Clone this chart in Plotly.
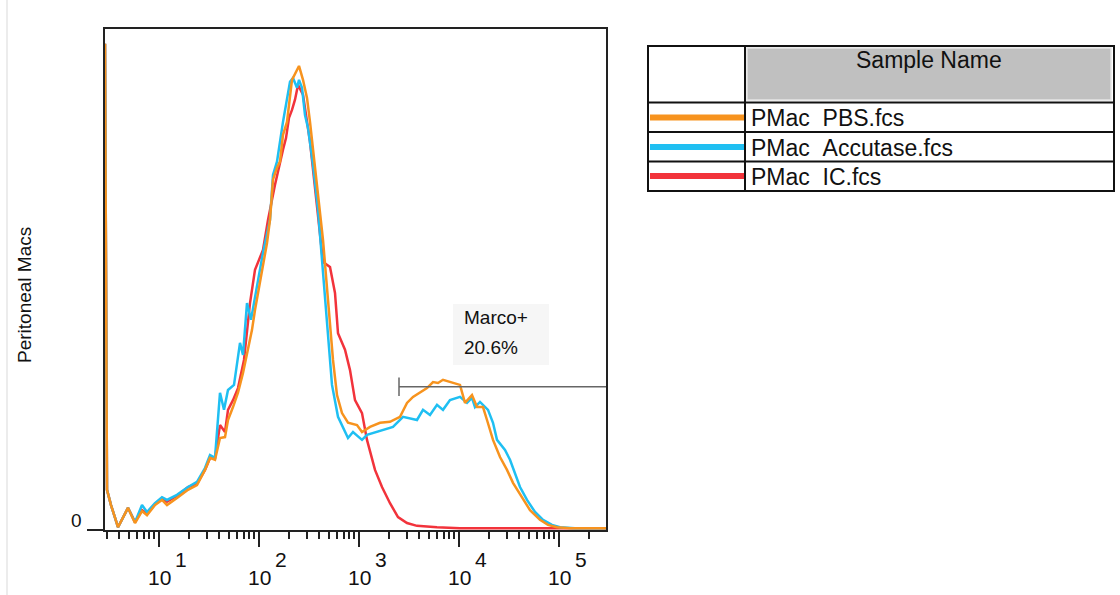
import numpy as np
import plotly.graph_objects as go

# ---------------- data (log10 fluorescence intensity, % of mode) ----------------
log_pbs = [0.46,0.48,0.52,0.59,0.69,0.76,0.83,0.88,0.96,1.03,1.08,1.13,1.18,1.29,1.38,1.46,1.51,1.56,1.61,1.66,
           1.69,1.74,1.79,1.84,1.89,1.93,1.96,2.03,2.08,2.11,2.14,2.18,2.21,2.24,2.28,2.33,2.37,2.40,2.44,2.48,
           2.51,2.56,2.61,2.64,2.69,2.74,2.78,2.83,2.89,2.98,3.03,3.11,3.21,3.31,3.41,3.48,3.54,3.61,3.68,3.74,
           3.79,3.84,3.94,4.01,4.06,4.13,4.18,4.24,4.28,4.34,4.41,4.48,4.54,4.63,4.71,4.81,4.89,4.98,5.11,5.31,5.47]
cnt_pbs = [105.2,8.7,5.4,0.6,4.8,1.5,4.1,3.2,5.4,6.5,5.4,6.1,6.9,8.7,9.7,13.0,15.6,15.2,19.9,20.1,
           23.8,26.6,29.7,34.0,39.0,43.3,47.6,56.3,62.1,67.1,75.8,78.4,79.7,85.5,88.3,97.4,99.1,100.4,97.4,93.5,
           88.3,79.0,69.7,62.8,49.8,36.8,29.2,25.3,23.2,22.7,21.2,22.3,23.2,23.4,24.5,27.5,28.8,29.7,30.7,32.0,
           31.8,32.5,31.8,31.4,27.5,29.2,26.6,26.6,23.8,19.5,15.8,13.0,10.2,7.1,4.3,2.2,1.1,0.6,0.4,0.4,0.4]

log_acc = [0.46,0.48,0.52,0.59,0.69,0.76,0.83,0.88,0.96,1.03,1.08,1.18,1.29,1.38,1.46,1.51,1.56,1.58,1.61,1.65,
           1.69,1.75,1.81,1.84,1.88,1.92,1.96,2.04,2.11,2.14,2.18,2.24,2.31,2.34,2.38,2.40,2.43,2.46,2.49,2.54,
           2.59,2.63,2.69,2.73,2.79,2.83,2.89,2.94,3.03,3.08,3.14,3.23,3.34,3.44,3.51,3.58,3.64,3.71,3.78,3.84,
           3.91,4.01,4.08,4.13,4.16,4.21,4.29,4.34,4.38,4.46,4.51,4.56,4.61,4.68,4.76,4.84,4.93,5.01,5.16,5.47]
cnt_acc = [105.2,8.7,5.4,0.6,4.8,1.7,5.4,3.9,5.8,7.1,6.5,7.6,9.3,10.4,13.4,16.2,15.6,21.6,29.7,26.0,
           30.3,31.4,40.5,37.9,49.1,45.5,50.4,60.0,67.1,76.8,79.7,88.3,97.0,97.8,95.7,97.4,95.7,89.8,87.0,79.0,
           69.3,58.4,40.5,31.4,24.5,22.7,19.9,21.2,19.5,20.6,21.0,21.6,22.3,24.5,24.2,23.8,26.0,24.9,27.1,26.0,
           28.1,28.8,27.5,28.6,26.6,27.7,26.0,23.2,19.5,17.3,15.2,12.3,9.3,6.5,3.9,2.2,1.1,0.6,0.4,0.4]

log_ic = [0.46,0.48,0.52,0.59,0.69,0.76,0.83,0.88,0.96,1.03,1.08,1.18,1.29,1.38,1.46,1.51,1.56,1.61,1.66,1.69,
          1.74,1.79,1.85,1.91,1.96,2.04,2.09,2.16,2.24,2.27,2.30,2.33,2.36,2.39,2.44,2.51,2.56,2.61,2.64,2.71,
          2.76,2.79,2.86,2.91,2.96,3.03,3.08,3.16,3.23,3.31,3.39,3.48,3.58,3.78,4.01,5.47]
cnt_ic = [105.2,8.7,5.4,0.6,4.8,1.7,4.3,3.5,5.6,6.9,6.1,7.4,9.3,10.0,13.0,15.6,15.6,22.7,21.2,26.0,
          28.1,30.7,36.8,49.1,56.3,60.6,67.1,74.7,82.3,84.8,89.2,90.9,93.1,96.3,94.2,84.0,74.0,63.9,58.0,56.9,
          51.3,42.6,39.0,34.6,28.1,25.3,19.5,13.0,9.3,5.8,2.8,1.5,0.9,0.6,0.4,0.4]

sample_names = ["PMac\u00a0\u00a0PBS.fcs", "PMac\u00a0\u00a0Accutase.fcs", "PMac\u00a0\u00a0IC.fcs"]
sample_colors = ["#F7931E", "#1FBFF2", "#F2333B"]

gate_label = "Marco+"
gate_pct = "20.6%"
gate_log_low = 3.40
gate_level = 31.0

x_tick_exponents = [1, 2, 3, 4, 5]
y_title = "Peritoneal Macs"
table_header = "Sample Name"

X_LOG_RANGE = [0.46, 5.47]
Y_MAX = 108.4

# ---------------- layout helpers (pixel -> paper) ----------------
W, H = 1120, 595
PL, PR, PT, PB = 105, 606, 29, 530


def px(p):
    return (p - PL) / (PR - PL)


def py(p):
    return (PB - p) / (PB - PT)


fig = go.Figure()

series = [(log_ic, cnt_ic, sample_colors[2]),
          (log_acc, cnt_acc, sample_colors[1]),
          (log_pbs, cnt_pbs, sample_colors[0])]
for L, c, col in series:
    fig.add_trace(go.Scatter(x=10 ** np.array(L), y=c, mode="lines",
                             line=dict(color=col, width=2.5),
                             showlegend=False, hoverinfo="skip"))

# gate
g_lo = 10 ** gate_log_low
g_hi = 10 ** X_LOG_RANGE[1]
fig.add_trace(go.Scatter(x=[g_lo, g_hi], y=[gate_level, gate_level], mode="lines",
                         line=dict(color="#666666", width=1.5), showlegend=False, hoverinfo="skip"))
fig.add_trace(go.Scatter(x=[g_lo, g_lo], y=[gate_level - 2, gate_level + 2], mode="lines",
                         line=dict(color="#666666", width=1.5), showlegend=False, hoverinfo="skip"))

major = [10 ** e for e in x_tick_exponents]
minor = [k * 10 ** e for e in range(0, 6) for k in range(2, 10)
         if X_LOG_RANGE[0] <= np.log10(k * 10 ** e) <= X_LOG_RANGE[1]]

FONT = "Arial, Liberation Sans, sans-serif"
AX = "#222222"

fig.update_layout(
    width=W, height=H,
    margin=dict(l=PL, r=W - PR, t=PT, b=H - PB),
    paper_bgcolor="white", plot_bgcolor="white",
    font=dict(family=FONT, color="#111111"),
    showlegend=False,
    xaxis=dict(type="log", range=X_LOG_RANGE, showline=True, linecolor=AX, linewidth=2, mirror=True,
               ticks="outside", tickvals=major, ticklen=15, tickwidth=1.5, tickcolor=AX,
               showticklabels=False, showgrid=False, zeroline=False,
               minor=dict(tickvals=minor, ticks="outside", ticklen=7, tickwidth=1.5,
                          tickcolor=AX, showgrid=False)),
    yaxis=dict(range=[0, Y_MAX], showline=True, linecolor=AX, linewidth=2, mirror=True,
               ticks="outside", tickvals=[0], ticklen=16, tickwidth=2, tickcolor=AX,
               showticklabels=False, showgrid=False, zeroline=False),
)

ann = []
shapes = []

# x tick labels (10 with superscript exponent)
for e in x_tick_exponents:
    xp = (e - X_LOG_RANGE[0]) / (X_LOG_RANGE[1] - X_LOG_RANGE[0])
    ann.append(dict(x=xp, y=py(577), xref="paper", yref="paper", text="10", showarrow=False,
                    xanchor="center", yanchor="middle", font=dict(size=21, color="#111")))
    ann.append(dict(x=xp, y=py(559), xref="paper", yref="paper", text=str(e), showarrow=False,
                    xanchor="left", yanchor="middle", xshift=14, font=dict(size=21, color="#111")))

# y zero label
ann.append(dict(x=px(84), y=py(520), xref="paper", yref="paper", text="0", showarrow=False,
                xanchor="right", yanchor="middle", font=dict(size=19, color="#111")))

# y title
ann.append(dict(x=px(24), y=py(295), xref="paper", yref="paper", text=y_title, textangle=-90,
                showarrow=False, xanchor="center", yanchor="middle", font=dict(size=19, color="#111")))

# gate label with light background
shapes.append(dict(type="rect", xref="paper", yref="paper", x0=px(453), x1=px(549), y0=py(365), y1=py(304),
                   fillcolor="#f6f6f6", line=dict(width=0), layer="below"))
ann.append(dict(x=px(462), y=py(317), xref="paper", yref="paper", text=gate_label, showarrow=False,
                xanchor="left", yanchor="middle", font=dict(size=19, color="#111")))
ann.append(dict(x=px(462), y=py(347), xref="paper", yref="paper", text=gate_pct, showarrow=False,
                xanchor="left", yanchor="middle", font=dict(size=19, color="#111")))

# faint outer frame line on the left
shapes.append(dict(type="line", xref="paper", yref="paper", x0=px(7), x1=px(7), y0=py(H), y1=py(0),
                   line=dict(color="#d9d9d9", width=1)))

# ---------------- sample table ----------------
TL, TR, TT, TBm = 648, 1114, 46, 191
COL = 745
shapes.append(dict(type="rect", xref="paper", yref="paper", x0=px(747), x1=px(1111), y0=py(100), y1=py(48),
                   fillcolor="#c0c0c0", line=dict(color="#e4e4e4", width=1.5)))
shapes.append(dict(type="rect", xref="paper", yref="paper", x0=px(TL), x1=px(TR), y0=py(TBm), y1=py(TT),
                   line=dict(color="#111", width=2)))
shapes.append(dict(type="line", xref="paper", yref="paper", x0=px(COL), x1=px(COL), y0=py(TBm), y1=py(TT),
                   line=dict(color="#111", width=2)))
for yy in [102.5, 132, 161.5]:
    shapes.append(dict(type="line", xref="paper", yref="paper", x0=px(TL), x1=px(TR), y0=py(yy), y1=py(yy),
                       line=dict(color="#111", width=2)))
ann.append(dict(x=px(929), y=py(60), xref="paper", yref="paper", text=table_header, showarrow=False,
                xanchor="center", yanchor="middle", font=dict(size=23, color="#111")))
row_y = [117.5, 147, 176]
for name, col, yy in zip(sample_names, sample_colors, row_y):
    shapes.append(dict(type="line", xref="paper", yref="paper", x0=px(650), x1=px(744), y0=py(yy), y1=py(yy),
                       line=dict(color=col, width=6)))
    ann.append(dict(x=px(749), y=py(yy + 1), xref="paper", yref="paper", text=name, showarrow=False,
                    xanchor="left", yanchor="middle", font=dict(size=23, color="#111")))

fig.update_layout(annotations=ann, shapes=shapes)
fig.write_html("out.html", config={"displayModeBar": False},
               post_script="document.body.style.margin='0';document.body.style.padding='0';")
